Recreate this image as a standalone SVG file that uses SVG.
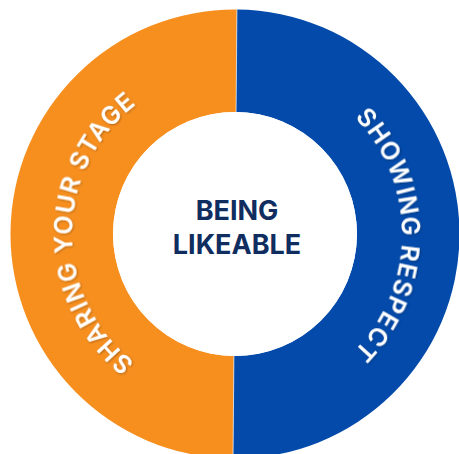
<svg xmlns="http://www.w3.org/2000/svg" width="459" height="454" viewBox="0 0 459 454">
  <defs>
    <filter id="soft" x="-10%" y="-10%" width="120%" height="120%">
      <feDropShadow dx="0.8" dy="0.8" stdDeviation="1" flood-color="#000" flood-opacity="0.35"/>
    </filter>
    <!-- baselines for the curved ring labels (both run clockwise) -->
    <path id="arcLeft" d="M235,397 A163,163 0 0 1 235,71"/>
    <path id="arcRight" d="M235,67 A167,167 0 0 1 235,401"/>
  </defs>
  <style>
    .ring-label { font-family: Inter, "Open Sans", "Liberation Sans", sans-serif; font-weight: 600; font-size: 25px; fill: #ffffff; letter-spacing: 1.1px; }
    .core-label { font-family: Inter, "Open Sans", "Liberation Sans", sans-serif; font-weight: 700; font-size: 27px; fill: #0f2d5e; text-anchor: middle; }
  </style>
  <rect width="459" height="454" fill="#ffffff"/>
  <g transform="rotate(0.5 235 234)">
    <g id="sharing-your-stage">
      <path d="M235,9.5 A224.5,224.5 0 0 0 235,458.5 L235,356 A122,122 0 0 1 235,112 Z" fill="#f78f1f"/>
      <text class="ring-label" filter="url(#soft)"><textPath href="#arcLeft" startOffset="50%" text-anchor="middle">SHARING YOUR STAGE</textPath></text>
    </g>
    <g id="showing-respect">
      <path d="M235,9.5 A224.5,224.5 0 0 1 235,458.5 L235,356 A122,122 0 0 0 235,112 Z" fill="#034aaa"/>
      <text class="ring-label" filter="url(#soft)"><textPath href="#arcRight" startOffset="50%" text-anchor="middle">SHOWING RESPECT</textPath></text>
    </g>
    <g id="connectors">
      <line x1="235" y1="9.5" x2="235" y2="112" stroke="#ffffff" stroke-width="0.8" stroke-opacity="0.8"/>
      <line x1="235" y1="356" x2="235" y2="458.5" stroke="#ffffff" stroke-width="0.8" stroke-opacity="0.8"/>
    </g>
  </g>
  <g id="being-likeable">
    <circle cx="235" cy="234" r="122" fill="#ffffff"/>
    <text class="core-label" x="237" y="220">BEING</text>
    <text class="core-label" x="237" y="254">LIKEABLE</text>
  </g>
</svg>
